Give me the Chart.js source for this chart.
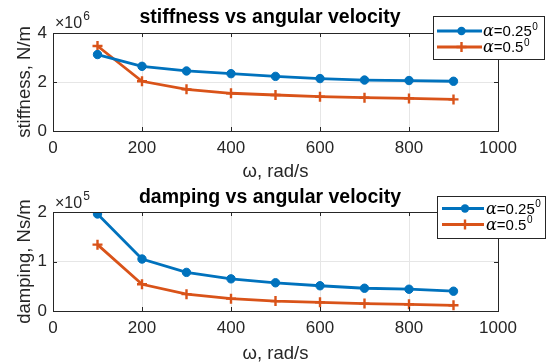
<!DOCTYPE html>
<html><head><meta charset="utf-8">
<script src="https://cdn.jsdelivr.net/npm/chart.js@4"></script>
<style>
html,body{margin:0;padding:0;background:#fff;overflow:hidden}
#wrap{position:relative;width:547px;height:363px}
canvas{position:absolute;left:0}
</style></head><body>
<div id="wrap">
<canvas id="c1" width="547" height="181" style="top:0"></canvas>
<canvas id="c2" width="547" height="182" style="top:181px"></canvas>
</div>
<script>
// ---- data ----
const omega = [100, 200, 300, 400, 500, 600, 700, 800, 900];
const stiff025 = [3.12e6, 2.64e6, 2.45e6, 2.34e6, 2.23e6, 2.14e6, 2.08e6, 2.06e6, 2.03e6];
const stiff05  = [3.47e6, 2.03e6, 1.70e6, 1.54e6, 1.47e6, 1.40e6, 1.36e6, 1.33e6, 1.29e6];
const damp025  = [1.96e5, 1.05e5, 0.78e5, 0.65e5, 0.57e5, 0.51e5, 0.46e5, 0.44e5, 0.40e5];
const damp05   = [1.34e5, 0.54e5, 0.34e5, 0.25e5, 0.20e5, 0.175e5, 0.15e5, 0.135e5, 0.115e5];
const xTicks = [0, 200, 400, 600, 800, 1000];
const stiffTicks = [0, 2e6, 4e6];
const dampTicks = [0, 1e5, 2e5];
const alphaVals = ['0.25', '0.5'];
const titles = ['stiffness vs angular velocity', 'damping vs angular velocity'];
const yTitles = ['stiffness, N/m', 'damping, Ns/m'];
const xTitle = 'ω, rad/s';

const BLUE = '#0072BD', ORANGE = '#D95319', AX = '#262626', GRID = '#e6e6e6';
const FONT = '"Liberation Sans", Arial, Helvetica, sans-serif';

function ds(label, data, color, style) {
  return {
    label: label,
    data: omega.map((x, i) => ({x: x, y: data[i]})),
    borderColor: color, backgroundColor: color,
    borderWidth: 2.8, pointStyle: style,
    pointRadius: style === 'circle' ? 4.2 : 5,
    pointBorderWidth: style === 'circle' ? 1 : 2.4,
    pointHoverRadius: 0, tension: 0, fill: false
  };
}

const decor = {
  id: 'decor',
  afterDraw(chart, args, o) {
    const ctx = chart.ctx, a = chart.chartArea;
    ctx.save();
    // box
    ctx.strokeStyle = AX; ctx.lineWidth = 1;
    ctx.strokeRect(Math.round(a.left) + 0.5, Math.round(a.top) + 0.5, Math.round(a.right - a.left), Math.round(a.bottom - a.top));
    // inward ticks
    const xs = chart.scales.x, ys = chart.scales.y;
    ctx.beginPath();
    xs.ticks.forEach(t => {
      const px = Math.round(xs.getPixelForValue(t.value)) + 0.5;
      ctx.moveTo(px, a.bottom); ctx.lineTo(px, a.bottom - 4);
      ctx.moveTo(px, a.top); ctx.lineTo(px, a.top + 4);
    });
    ys.ticks.forEach(t => {
      const py = Math.round(ys.getPixelForValue(t.value)) + 0.5;
      ctx.moveTo(a.left, py); ctx.lineTo(a.left + 4, py);
      ctx.moveTo(a.right, py); ctx.lineTo(a.right - 4, py);
    });
    ctx.stroke();
    // title
    ctx.fillStyle = '#000';
    ctx.font = 'bold 19.5px ' + FONT;
    ctx.textAlign = 'center'; ctx.textBaseline = 'middle';
    ctx.fillText(o.title, o.titleX, o.titleY);
    // exponent
    ctx.fillStyle = '#262626';
    ctx.textAlign = 'left'; ctx.textBaseline = 'alphabetic';
    ctx.font = '16px ' + FONT;
    ctx.fillText('×10', a.left + 2, a.top - o.expOff);
    const w = ctx.measureText('×10').width;
    ctx.font = '12px ' + FONT;
    ctx.fillText(o.exp, a.left + 2 + w + 1, a.top - o.expOff - 8);
    // legend
    const L = o.legend;
    ctx.fillStyle = '#fff';
    ctx.fillRect(L.x, L.y, L.w, L.h);
    ctx.strokeStyle = AX; ctx.lineWidth = 1;
    ctx.strokeRect(L.x + 0.5, L.y + 0.5, L.w, L.h);
    chart.data.datasets.forEach((d, i) => {
      const y = L.rows[i];
      ctx.strokeStyle = d.borderColor; ctx.fillStyle = d.borderColor;
      ctx.lineWidth = d.borderWidth;
      ctx.beginPath(); ctx.moveTo(L.s0, y); ctx.lineTo(L.s1, y); ctx.stroke();
      const cx = (L.s0 + L.s1) / 2 + 2;
      if (d.pointStyle === 'circle') {
        ctx.beginPath(); ctx.arc(cx, y, d.pointRadius, 0, Math.PI * 2); ctx.fill();
      } else {
        ctx.lineWidth = d.pointBorderWidth;
        ctx.beginPath();
        ctx.moveTo(cx - d.pointRadius, y); ctx.lineTo(cx + d.pointRadius, y);
        ctx.moveTo(cx, y - d.pointRadius); ctx.lineTo(cx, y + d.pointRadius);
        ctx.stroke();
      }
      ctx.fillStyle = '#000';
      ctx.textBaseline = 'middle';
      let tx = L.tx;
      ctx.font = 'italic 16px "DejaVu Serif", "Liberation Serif", serif';
      ctx.fillText('α', tx, y + 1);
      tx += ctx.measureText('α').width;
      ctx.font = '15px ' + FONT;
      const s = '=' + alphaVals[i];
      ctx.fillText(s, tx, y + 1);
      tx += ctx.measureText(s).width;
      ctx.font = '10px ' + FONT;
      ctx.fillText('0', tx + 0.5, y - 4);
    });
    ctx.restore();
  }
};

function makeChart(id, d1, d2, ticks, div, exp, idx, pad, xH, legend, titleY, xTitlePad, expOff) {
  return new Chart(document.getElementById(id), {
    type: 'line',
    data: {datasets: [
      ds('α=' + alphaVals[0] + '°', d1, BLUE, 'circle'),
      ds('α=' + alphaVals[1] + '°', d2, ORANGE, 'cross')
    ]},
    options: {
      responsive: false, animation: false, devicePixelRatio: 1,
      layout: {padding: {top: pad, right: 49, left: 0, bottom: 0}},
      plugins: {
        legend: {display: false}, tooltip: {enabled: false},
        decor: {title: titles[idx], titleX: 270, titleY: titleY, exp: exp, expOff: expOff, legend: legend}
      },
      scales: {
        x: {
          type: 'linear', min: 0, max: 1000,
          afterBuildTicks: s => { s.ticks = xTicks.map(v => ({value: v})); },
          afterFit: s => { s.height = xH; },
          grid: {color: GRID, drawTicks: false, lineWidth: 1},
          border: {display: false},
          ticks: {color: '#262626', font: {family: FONT, size: 17}, padding: 7, maxRotation: 0, callback: v => String(v)},
          title: {display: true, text: xTitle, color: '#262626', font: {family: FONT, size: 18.5, lineHeight: 1}, padding: {top: xTitlePad, bottom: 0}}
        },
        y: {
          type: 'linear', min: ticks[0], max: ticks[ticks.length - 1],
          afterBuildTicks: s => { s.ticks = ticks.map(v => ({value: v})); },
          afterFit: s => { s.width = 53; },
          grid: {color: GRID, drawTicks: false, lineWidth: 1},
          border: {display: false},
          ticks: {color: '#262626', font: {family: FONT, size: 17}, padding: 6, callback: v => String(v / div)},
          title: {display: true, text: yTitles[idx], color: '#262626', font: {family: FONT, size: 18.5, lineHeight: 1}, padding: {top: 16, bottom: 0}}
        }
      }
    },
    plugins: [decor]
  });
}

makeChart('c1', stiff025, stiff05, stiffTicks, 1e6, '6', 0, 33, 50,
  {x: 433, y: 16, w: 111, h: 43, rows: [31, 47], s0: 437, s1: 482, tx: 483}, 17.5, -1.8, 5);
makeChart('c2', damp025, damp05, dampTicks, 1e5, '5', 1, 31, 52,
  {x: 437, y: 15, w: 108, h: 42, rows: [27.5, 43.5], s0: 442, s1: 484, tx: 486}, 16.5, 0.2, 4);
</script>
</body></html>
